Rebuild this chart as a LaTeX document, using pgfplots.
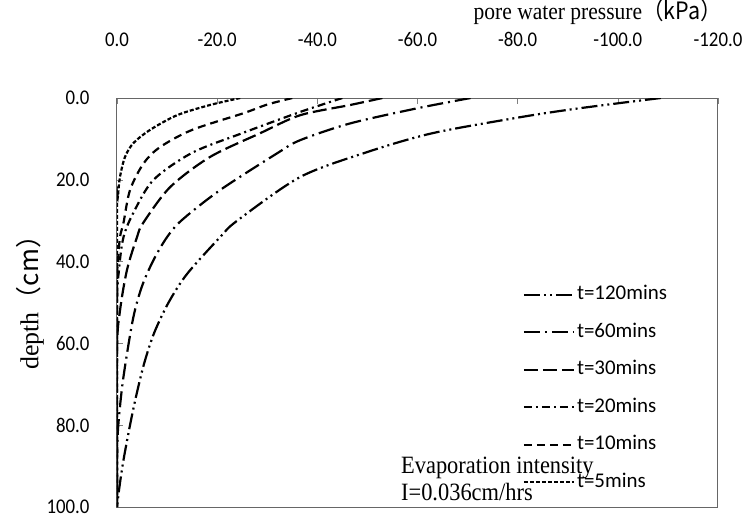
\documentclass[border=0pt]{standalone}
\usepackage{fontspec}
\setmainfont{Liberation Serif}
\newfontfamily\narrowserif[FakeStretch=0.9]{Liberation Serif}
\newfontfamily\calfont{Carlito}
\newfontfamily\calnarrow[FakeStretch=0.9]{Carlito}
\newfontfamily\cjk{Noto Sans CJK SC}
\newfontfamily\cjknarrow[FakeStretch=0.9]{Noto Sans CJK SC}
\usepackage{pgfplots}
\pgfplotsset{compat=1.18}

\begin{document}
\begin{tikzpicture}
\begin{axis}[
  scale only axis,
  width=601bp, height=409bp,
  xmin=-120, xmax=0, ymin=0, ymax=100,
  x dir=reverse, y dir=reverse,
  xtick={0,-20,-40,-60,-80,-100,-120},
  ytick={0,20,40,60,80,100},
  xtick pos=right, xticklabel pos=right,
  ytick pos=left,
  tick align=inside,
  major tick length=6bp,
  tick style={gray, line width=0.6bp},
  axis line style={gray!80!black, line width=1bp},
  xticklabel style={font=\fontsize{21}{24}\selectfont\calnarrow, yshift=48bp},
  yticklabel style={font=\fontsize{21}{24}\selectfont\calnarrow, xshift=-24bp},
  /pgf/number format/.cd, fixed, fixed zerofill, precision=1, assume math mode=true,
  /pgfplots/.cd,
  every axis plot/.append style={black, line width=2.2bp, line cap=butt},
  legend cell align=left,
  legend style={draw=none, fill=none, at={(rel axis cs:0.670,0.546)}, anchor=north west,
    font=\fontsize{21}{24}\selectfont\calfont,
    nodes={inner ysep=0pt, inner xsep=2pt, text height=14pt, text depth=4pt},
    row sep=19.6pt},
  legend image code/.code={\draw[#1] (0bp,0bp) -- (50bp,0bp);},
]
\coordinate (sw) at (rel axis cs:0,0);
\coordinate (ne) at (rel axis cs:1,1);

% t=120 mins
\addplot[smooth, dash pattern=on 16bp off 4bp on 2bp off 4bp on 2bp off 4bp] coordinates {
(-108.6,0) (-100,1.3) (-90,2.9) (-80,4.8) (-63,8.6) (-50,13.2) (-36.6,19.3)
(-24,30) (-20.6,34) (-14,43) (-10.3,50) (-7.4,57.5) (-5.4,65) (-3.8,73)
(-2.6,80) (-1.3,88.5) (-0.5,95) (0,100)};
% t=60 mins
\addplot[smooth, dash pattern=on 16bp off 5bp on 2bp off 5bp] coordinates {
(-70.6,0) (-60,2.5) (-46.6,6.2) (-36.6,10.3) (-32,13.5) (-20.6,22.5) (-13,29.8)
(-10,34) (-7.3,39.6) (-5,46) (-3.2,54) (-1.2,69) (-0.2,81) (0,90) (0,100)};
% t=30 mins
\addplot[smooth, dash pattern=on 14bp off 5bp] coordinates {
(-53,0) (-46.6,1.7) (-36.6,4.2) (-28.6,8.6) (-18.6,14.4) (-10.6,21.8) (-5.2,30.6)
(-4,34) (-2,42) (-0.6,52) (0,62) (0,100)};
% t=20 mins
\addplot[smooth, dash pattern=on 8bp off 4bp on 2bp off 4bp] coordinates {
(-45,0) (-36.6,3.4) (-25,8.6) (-15,13.4) (-7.3,20) (-3.3,28) (-1.3,34)
(-0.4,42) (0,52) (0,100)};
% t=10 mins
\addplot[smooth, dash pattern=on 8bp off 5bp] coordinates {
(-35,0) (-30,1.6) (-25.3,3.7) (-15,7.8) (-8.6,12) (-5.3,16) (-2.6,22.5)
(-1.3,30.5) (-0.6,34) (-0.2,40) (0,48) (0,100)};
% t=5 mins
\addplot[smooth, dash pattern=on 4bp off 2bp] coordinates {
(-24.6,0) (-18.6,1.7) (-12,4.2) (-6.6,7.8) (-3.3,11) (-1.6,14.4) (-0.6,19.3)
(-0.2,24) (0,30) (0,100)};

\legend{t=120mins, t=60mins, t=30mins, t=20mins, t=10mins, t=5mins}

\node[anchor=west, align=left, font=\fontsize{25}{27}\selectfont\narrowserif, inner sep=0pt]
  at (rel axis cs:0.4725,0.068) {Evaporation intensity\\I=0.036cm/hrs};
\end{axis}
\node[anchor=east, font=\fontsize{24}{26}\selectfont\narrowserif, inner sep=0pt]
  at ([xshift=4bp,yshift=86bp]ne) {pore water pressure\cjknarrow{（}kPa\cjknarrow{）}};
\path (sw) -- (sw |- ne) node[pos=0.515, rotate=90, font=\fontsize{26}{28}\selectfont, inner sep=0pt, yshift=87bp] {depth\cjk{（}cm\cjk{）}};
\pgfresetboundingbox
\path ([xshift=-117bp,yshift=-18bp]sw) rectangle ([xshift=31bp,yshift=98bp]ne);
\end{tikzpicture}
\end{document}
